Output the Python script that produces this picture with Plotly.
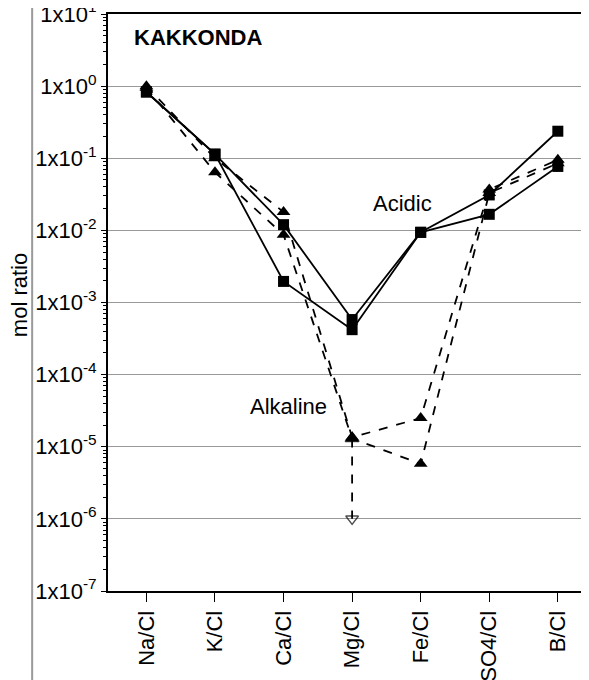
import plotly.graph_objects as go

categories = ["Na/Cl", "K/Cl", "Ca/Cl", "Mg/Cl", "Fe/Cl", "SO4/Cl", "B/Cl"]

acidic_1 = [0.83, 0.114, 0.012, 5.8e-4, 0.0094, 0.031, 0.237]
acidic_2 = [0.83, 0.114, 0.00196, 4.2e-4, 0.0094, 0.0167, 0.077]

alkaline_1 = [1.0, 0.10, 0.018, 1.35e-5, 2.5e-5, 0.037, 0.095]
alkaline_2 = [0.95, 0.064, 0.0087, 1.3e-5, 5.8e-6, 0.033, 0.085]

mg_limit_x = ["Mg/Cl", "Mg/Cl"]
mg_limit_y = [1.3e-5, 1.0e-6]

tick_vals = [1e-7, 1e-6, 1e-5, 1e-4, 1e-3, 1e-2, 1e-1, 1e0, 1e1]
tick_text = ["1x10<sup>-7</sup>", "1x10<sup>-6</sup>", "1x10<sup>-5</sup>",
             "1x10<sup>-4</sup>", "1x10<sup>-3</sup>", "1x10<sup>-2</sup>",
             "1x10<sup>-1</sup>", "1x10<sup>0</sup>", "1x10<sup>1</sup>"]

minor_vals = [m * d for d in tick_vals[:-1] for m in range(2, 10)]

FONT = "Liberation Sans, Arial, sans-serif"

fig = go.Figure()

for ys in (alkaline_1, alkaline_2):
    fig.add_trace(go.Scatter(
        x=categories, y=ys, mode="lines+markers",
        line=dict(color="black", width=1.8, dash="dash"),
        marker=dict(symbol="triangle-up", size=12, color="black"),
        showlegend=False, hoverinfo="skip"))

fig.add_trace(go.Scatter(
    x=mg_limit_x, y=mg_limit_y, mode="lines+markers",
    line=dict(color="black", width=1.8, dash="dash"),
    marker=dict(symbol=["triangle-up", "triangle-down-open"], size=[12, 11],
                color="black", line=dict(color="black", width=1.5)),
    showlegend=False, hoverinfo="skip"))

for ys in (acidic_1, acidic_2):
    fig.add_trace(go.Scatter(
        x=categories, y=ys, mode="lines+markers",
        line=dict(color="black", width=1.8),
        marker=dict(symbol="square", size=11, color="black"),
        showlegend=False, hoverinfo="skip"))

fig.update_layout(
    width=589, height=680,
    margin=dict(l=100, r=9, t=6, b=97, autoexpand=False),
    paper_bgcolor="white", plot_bgcolor="white",
    font=dict(family=FONT, size=22, color="black"),
    xaxis=dict(
        type="category", categoryorder="array", categoryarray=categories,
        range=[-0.56, 6.44], automargin=False,
        showline=True, linecolor="black", linewidth=2, mirror=True,
        ticks="outside", ticklen=9, tickwidth=1, tickcolor="black",
        tickangle=-90, tickfont=dict(family=FONT, size=22),
        showgrid=False, zeroline=False),
    yaxis=dict(
        type="log", range=[-7, 1], automargin=False,
        tickvals=tick_vals, ticktext=tick_text,
        tickfont=dict(family=FONT, size=22),
        ticklabeloverflow="allow",
        showline=True, linecolor="black", linewidth=2, mirror=True,
        ticks="outside", ticklen=5, tickwidth=1, tickcolor="black",
        showgrid=True, gridcolor="#999999", gridwidth=1,
        minor=dict(tickvals=minor_vals, ticks="outside", ticklen=3,
                   tickcolor="black", showgrid=False),
        zeroline=False),
    annotations=[
        dict(text="mol ratio", xref="paper", yref="paper",
             x=-0.183, y=0.513, showarrow=False, textangle=-90,
             xanchor="center", yanchor="middle",
             font=dict(family=FONT, size=22, color="black")),
        dict(text="<b>KAKKONDA</b>", xref="paper", yref="paper",
             x=0.1875, y=0.96, showarrow=False,
             xanchor="center", yanchor="middle",
             font=dict(family=FONT, size=22, color="black")),
        dict(text="Acidic", xref="paper", yref="paper",
             x=0.6125, y=0.671, showarrow=False,
             xanchor="center", yanchor="middle",
             font=dict(family=FONT, size=22, color="black")),
        dict(text="Alkaline", xref="paper", yref="paper",
             x=0.377, y=0.3206, showarrow=False,
             xanchor="center", yanchor="middle",
             font=dict(family=FONT, size=22, color="black")),
    ],
    shapes=[
        dict(type="line", xref="paper", yref="paper",
             x0=-0.158, x1=-0.158, y0=-0.18, y1=1.02,
             line=dict(color="#9a9a9a", width=2)),
    ],
)

fig.write_html("out.html")
